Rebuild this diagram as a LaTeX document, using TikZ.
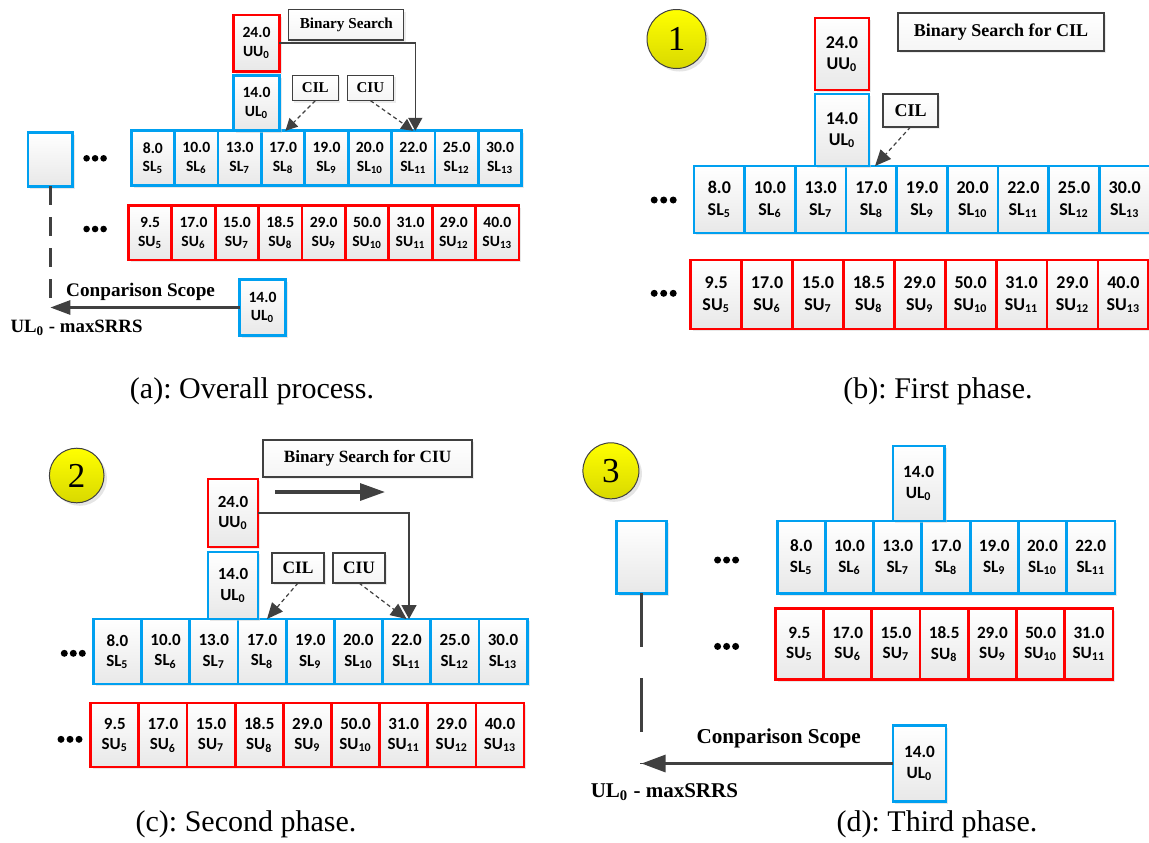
\documentclass[tikz,border=0pt]{standalone}
\usepackage{fontspec}
\setmainfont{Liberation Serif}
\newfontfamily\calib{Carlito}
\usetikzlibrary{arrows.meta,shadows,calc}
\definecolor{cblue}{RGB}{0,160,240}
\definecolor{cred}{RGB}{255,0,0}
\definecolor{cgray}{RGB}{64,64,64}
\definecolor{cyel}{RGB}{255,255,0}
\frenchspacing
\tikzset{
  sz/.style 2 args={minimum width={#1*0.5pt},minimum height={#2*0.5pt}},
  cellbase/.style={rectangle,outer sep=0pt,inner sep=0pt,align=center,top color=white,bottom color=black!9,line width=1.4pt,
     drop shadow={shadow xshift=1.2pt,shadow yshift=-1.2pt,fill=black!18}},
  bcell/.style={cellbase,draw=cblue},
  rcell/.style={cellbase,draw=cred},
  lbl/.style={rectangle,outer sep=0pt,inner sep=0pt,draw=cgray,line width=0.6pt,top color=white,bottom color=black!4,
     drop shadow={shadow xshift=1pt,shadow yshift=-1pt,fill=black!15}},
  lfont/.style={font={\bfseries\fontsize{#1}{#1}\selectfont}},
  numc/.style={circle,draw=cgray,line width=0.5pt,inner sep=0pt,outer sep=0pt,top color=cyel,bottom color=cyel!85!black,
     drop shadow={shadow xshift=1.5pt,shadow yshift=-1.5pt,fill=black!20},font=\fontsize{17.5}{17.5}\selectfont},
  captxt/.style={font=\fontsize{15}{18}\selectfont,anchor=base,inner sep=0pt},
  bsline/.style={draw=cgray,line width=0.8pt},
  dsh/.style={draw=cgray,line width=0.6pt,dash pattern=on 2pt off 1.5pt},
  cmp/.style={draw=cgray,line width=1.4pt},
  vline/.style={draw=cgray,line width=1.3pt},
  txt/.style={inner sep=0pt,font={\bfseries\fontsize{#1}{#1}\selectfont}},
}
\newcommand\cellrow[9]{%
  \foreach \v/\i [count=\k from 0] in {#9}{%
    \node[#3,minimum width={#5*0.5pt},minimum height={#7*0.5pt},font={\calib\bfseries\fontsize#8\selectfont}]
      (#1#2\i) at ({#4+(\k+0.5)*#5},#6) {\v\\#2\textsubscript{\i}};
  }%
}
\newcommand\threedots[4]{\foreach \d in {-1,0,1}{\fill[black] ({#1+\d*#3},#2) circle[radius=#4];}}
\begin{document}
\begin{tikzpicture}[x=0.5pt,y=-0.5pt]
\useasboundingbox (0,0) rectangle (1149,842);

% ================= (a) =================
\cellrow{a-}{SL}{bcell}{131.2}{43.4}{158}{54.4}{{7.8}{9.3}}{8.0/5,10.0/6,13.0/7,17.0/8,19.0/9,20.0/10,22.0/11,25.0/12,30.0/13}
\cellrow{a-}{SU}{rcell}{128.4}{43.4}{232.8}{54.4}{{7.8}{9.3}}{9.5/5,17.0/6,15.0/7,18.5/8,29.0/9,50.0/10,31.0/11,29.0/12,40.0/13}
\node[rcell,sz={45.5}{56.4},font={\calib\bfseries\fontsize{7.8}{9.3}\selectfont}] (a-UU) at (256.5,43.2) {24.0\\UU\textsubscript{0}};
\node[bcell,sz={45.5}{55.4},font={\calib\bfseries\fontsize{7.8}{9.3}\selectfont}] (a-UL) at (256.5,103.1) {14.0\\UL\textsubscript{0}};
\node[lbl,sz={114.9}{30.5},lfont=7.6] (a-BS) at (346.3,24.8) {Binary Search};
\node[lbl,sz={46.2}{25.2},lfont=7.5] (a-CIL) at (315.3,88) {CIL};
\node[lbl,sz={46.2}{25.2},lfont=7.5] (a-CIU) at (370.4,88) {CIU};
\node[bcell,sz={44.8}{53.7}] (a-blank) at (50.3,159.4) {};
\threedots{95.1}{158.3}{8.5}{3.3}
\threedots{95.1}{229}{8.5}{3.3}
\node[bcell,sz={45.8}{56.4},font={\calib\bfseries\fontsize{7.8}{9.3}\selectfont}] (a-ULb) at (262.5,307.5) {14.0\\UL\textsubscript{0}};
\coordinate (a-tip) at (50.3,307.5);
\draw[bsline,-{Triangle[length=6.5pt,width=7pt]}] (a-UU.east) -| ($(a-SL11.north)+(2,0)$);
\draw[dsh,-{Triangle[length=6pt,width=6pt]}] (a-CIL.south) -- ($(a-SL8.north)+(2.3,0)$);
\draw[dsh,-{Triangle[length=6pt,width=6pt]}] (a-CIU.south) -- (a-SL11.north);
\draw[vline,dash pattern=on 9.5pt off 6pt] (a-blank.south) -- (a-tip);
\draw[cmp,-{Triangle[length=10pt,width=7pt]}] (a-ULb.west) -- (a-tip);
\node[txt=9.6] (a-cs) at (140.6,291.5) {Conparison Scope};
\node[txt=9.4,anchor=west] (a-max) at (10.2,328) {UL\textsubscript{0} - maxSRRS};
\node[captxt] (capA) at (252,398) {(a): Overall process.};

% ================= (b) =================
\node[numc,minimum size=29.5pt] (b-num) at (676.5,39) {1};
\cellrow{b-}{SL}{bcell}{694}{50.67}{199.5}{67}{{9}{10.8}}{8.0/5,10.0/6,13.0/7,17.0/8,19.0/9,20.0/10,22.0/11,25.0/12,30.0/13}
\cellrow{b-}{SU}{rcell}{690.7}{50.9}{294.5}{69}{{9}{10.8}}{9.5/5,17.0/6,15.0/7,18.5/8,29.0/9,50.0/10,31.0/11,29.0/12,40.0/13}
\node[rcell,sz={54}{72},font={\calib\bfseries\fontsize{9}{10.8}\selectfont}] (b-UU) at (842,54) {24.0\\UU\textsubscript{0}};
\node[bcell,sz={54}{72},font={\calib\bfseries\fontsize{9}{10.8}\selectfont}] (b-UL) at (842,130) {14.0\\UL\textsubscript{0}};
\node[lbl,sz={206}{38},lfont=9] (b-BS) at (1001,32) {Binary Search for CIL};
\node[lbl,sz={55}{33},lfont=9] (b-CIL) at (910.5,110.5) {CIL};
\threedots{663.7}{200}{9.5}{3.5}
\threedots{663.7}{293.3}{9.5}{3.5}
\draw[dsh,-{Triangle[length=8pt,width=7pt]}] (b-CIL.south) -- ($(b-SL8.north)+(3.7,0)$);
\node[captxt] (capB) at (938,398) {(b): First phase.};

% ================= (c) =================
\node[numc,minimum size=27.3pt] (c-num) at (76.7,475.5) {2};
\cellrow{c-}{SL}{bcell}{93.3}{48.2}{651.5}{65}{{8.5}{10.2}}{8.0/5,10.0/6,13.0/7,17.0/8,19.0/9,20.0/10,22.0/11,25.0/12,30.0/13}
\cellrow{c-}{SU}{rcell}{90.7}{48.15}{735}{64}{{8.5}{10.2}}{9.5/5,17.0/6,15.0/7,18.5/8,29.0/9,50.0/10,31.0/11,29.0/12,40.0/13}
\node[rcell,sz={50}{68},font={\calib\bfseries\fontsize{8.5}{10.2}\selectfont}] (c-UU) at (233,513) {24.0\\UU\textsubscript{0}};
\node[bcell,sz={50}{67},font={\calib\bfseries\fontsize{8.5}{10.2}\selectfont}] (c-UL) at (233,585.5) {14.0\\UL\textsubscript{0}};
\node[lbl,sz={209}{37},lfont=8.6] (c-BS) at (367.5,458.5) {Binary Search for CIU};
\node[lbl,sz={52}{30},lfont=8.7] (c-CIL) at (298,568) {CIL};
\node[lbl,sz={52}{30},lfont=8.7] (c-CIU) at (359,568) {CIU};
\threedots{73.3}{653.3}{9}{3.5}
\threedots{70}{739.3}{9}{3.5}
\coordinate (c-ar1) at (275,492);
\coordinate (c-ar2) at (385,492);
\draw[draw=cgray,line width=1.6pt,-{Triangle[length=12.5pt,width=8.5pt]}] (c-ar1) -- (c-ar2);
\draw[bsline,-{Triangle[length=7pt,width=7.5pt]}] (c-UU.east) -| ($(c-SL11.north)+(2.4,0)$);
\draw[dsh,-{Triangle[length=8pt,width=7pt]}] (c-CIL.south) -- ($(c-SL8.north)+(5,0)$);
\draw[dsh,-{Triangle[length=8pt,width=7pt]}] (c-CIU.south) -- (c-SL11.north);
\node[captxt] (capC) at (246,831) {(c): Second phase.};

% ================= (d) =================
\node[numc,minimum size=28pt] (d-num) at (610.9,470.8) {3};
\cellrow{d-}{SL}{bcell}{777.1}{48.26}{557.2}{72.3}{{8.6}{10.3}}{8.0/5,10.0/6,13.0/7,17.0/8,19.0/9,20.0/10,22.0/11}
\cellrow{d-}{SU}{rcell}{775.3}{48.24}{644}{71.6}{{8.6}{10.3}}{9.5/5,17.0/6,15.0/7,18.5/8,29.0/9,50.0/10,31.0/11}
\node[bcell,sz={51.2}{75},font={\calib\bfseries\fontsize{8.6}{10.3}\selectfont}] (d-UL) at (918.6,483.5) {14.0\\UL\textsubscript{0}};
\node[bcell,sz={50.1}{72.3}] (d-blank) at (641.5,557.2) {};
\threedots{726.6}{560}{9}{3.5}
\threedots{726.6}{646.4}{9}{3.5}
\node[bcell,sz={53}{75.4},font={\calib\bfseries\fontsize{8.6}{10.3}\selectfont}] (d-ULb) at (919.5,763.5) {14.0\\UL\textsubscript{0}};
\coordinate (d-tip) at (641.5,763.5);
\draw[vline,line width=1.25pt,dash pattern=on 27pt off 15.5pt] (d-blank.south) -- (d-tip);
\draw[cmp,line width=1.5pt,-{Triangle[length=12pt,width=8.5pt]}] (d-ULb.west) -- (d-tip);
\node[txt=10.6] (d-cs) at (778.7,738) {Conparison Scope};
\node[txt=10.5,anchor=west] (d-max) at (590.4,792) {UL\textsubscript{0} - maxSRRS};
\node[captxt] (capD) at (937,831) {(d): Third phase.};
\end{tikzpicture}
\end{document}
